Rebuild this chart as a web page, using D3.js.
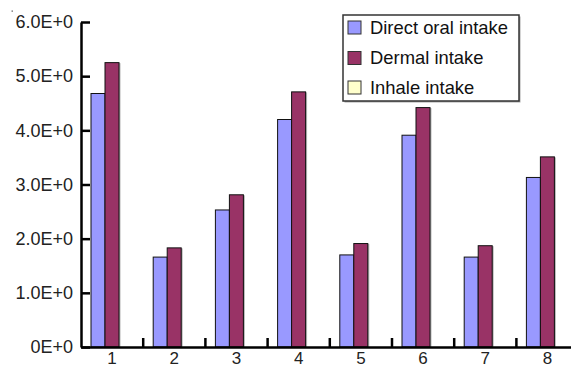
<!DOCTYPE html>
<html>
<head>
<meta charset="utf-8">
<script src="https://cdn.jsdelivr.net/npm/d3@7"></script>
<style>
  html, body { margin: 0; padding: 0; background: #fff; }
  svg { display: block; font-family: "Liberation Sans", Arial, sans-serif; }
</style>
</head>
<body>
<svg id="chart" width="571" height="367"></svg>
<script>
const categories = ["1", "2", "3", "4", "5", "6", "7", "8"];
const seriesNames = ["Direct oral intake", "Dermal intake", "Inhale intake"];
const directOral = [4.68, 1.66, 2.53, 4.20, 1.70, 3.91, 1.66, 3.13];
const dermal     = [5.25, 1.83, 2.81, 4.71, 1.91, 4.42, 1.87, 3.51];
const inhale     = [0, 0, 0, 0, 0, 0, 0, 0];
const yTickValues = [0, 1, 2, 3, 4, 5, 6];
const yTickLabels = ["0E+0", "1.0E+0", "2.0E+0", "3.0E+0", "4.0E+0", "5.0E+0", "6.0E+0"];
const colors = ["#9999FF", "#993366", "#FFFFCC"];

const seriesValues = [directOral, dermal, inhale];

const svg = d3.select("#chart");
const x0 = 81, y0 = 347, yTop = 22;
const bandW = 62.2;

const x = d3.scaleBand().domain(categories).range([x0, x0 + bandW * categories.length]).padding(0);
const xs = d3.scaleBand().domain(seriesNames).range([10, bandW - 10.2]).padding(0);
const y = d3.scaleLinear().domain([0, 6]).range([y0, yTop]);

// stray dot
svg.append("rect").attr("x", 11.5).attr("y", 10.5).attr("width", 1.5).attr("height", 1.2).attr("fill", "#666");

// bars
const groups = svg.append("g").selectAll("g")
  .data(categories)
  .join("g")
  .attr("transform", d => `translate(${x(d)},0)`);

seriesNames.forEach((s, si) => {
  groups.append("rect")
    .attr("x", xs(s) + 1.5)
    .attr("y", (d, i) => y(seriesValues[si][i]) + 0.5)
    .attr("width", xs.bandwidth())
    .attr("height", (d, i) => Math.max(0, y0 - y(seriesValues[si][i])))
    .attr("fill", "#999")
    .attr("opacity", (d, i) => seriesValues[si][i] > 0 ? 0.7 : 0);
  groups.append("rect")
    .attr("x", xs(s))
    .attr("y", (d, i) => y(seriesValues[si][i]))
    .attr("width", xs.bandwidth())
    .attr("height", (d, i) => Math.max(0, y0 - y(seriesValues[si][i])))
    .attr("fill", colors[si])
    .attr("stroke", "#111")
    .attr("stroke-width", (d, i) => seriesValues[si][i] > 0 ? 1 : 0);
});

// y axis
const yAxis = d3.axisLeft(y)
  .tickValues(yTickValues)
  .tickFormat((d, i) => yTickLabels[i])
  .tickSizeInner(-9)
  .tickSizeOuter(0)
  .tickPadding(8);
const gy = svg.append("g").attr("transform", `translate(${x0},0)`).call(yAxis);
gy.select(".domain").attr("stroke", "#000").attr("stroke-width", 2.5);
gy.selectAll(".tick line").attr("stroke", "#000").attr("stroke-width", 2.5);
gy.selectAll(".tick text").attr("font-size", 18).attr("fill", "#222")
  .attr("font-family", "'Liberation Sans', Arial, sans-serif");

// x axis
const xAxis = d3.axisBottom(x).tickSize(0).tickPadding(0);
const gx = svg.append("g").attr("transform", `translate(0,${y0})`).call(xAxis);
gx.select(".domain").attr("stroke", "#000").attr("stroke-width", 2.5);
gx.selectAll(".tick text").attr("font-size", 17).attr("fill", "#222")
  .attr("dy", 0).attr("y", 16.5)
  .attr("font-family", "'Liberation Sans', Arial, sans-serif");
svg.append("g").selectAll("line")
  .data(categories.slice(1))
  .join("line")
  .attr("x1", d => x(d)).attr("x2", d => x(d))
  .attr("y1", y0).attr("y2", y0 - 9)
  .attr("stroke", "#000").attr("stroke-width", 2.5);

// legend
const lg = svg.append("g").attr("transform", "translate(343,15)");
lg.append("rect").attr("x", 1.5).attr("y", 1.5).attr("width", 176).attr("height", 86).attr("fill", "#aaa");
lg.append("rect").attr("x", 0).attr("y", 0).attr("width", 176).attr("height", 86)
  .attr("fill", "#fff").attr("stroke", "#333").attr("stroke-width", 1.5);
const rowY = [12.5, 43, 72.5];
seriesNames.forEach((s, i) => {
  lg.append("rect").attr("x", 5).attr("y", rowY[i] - 6.5).attr("width", 13).attr("height", 13)
    .attr("fill", colors[i]).attr("stroke", "#333").attr("stroke-width", 1);
  lg.append("text").attr("x", 27).attr("y", rowY[i]).attr("dy", "0.35em")
    .attr("font-size", 18.4).attr("fill", "#111").text(s);
});
</script>
</body>
</html>
